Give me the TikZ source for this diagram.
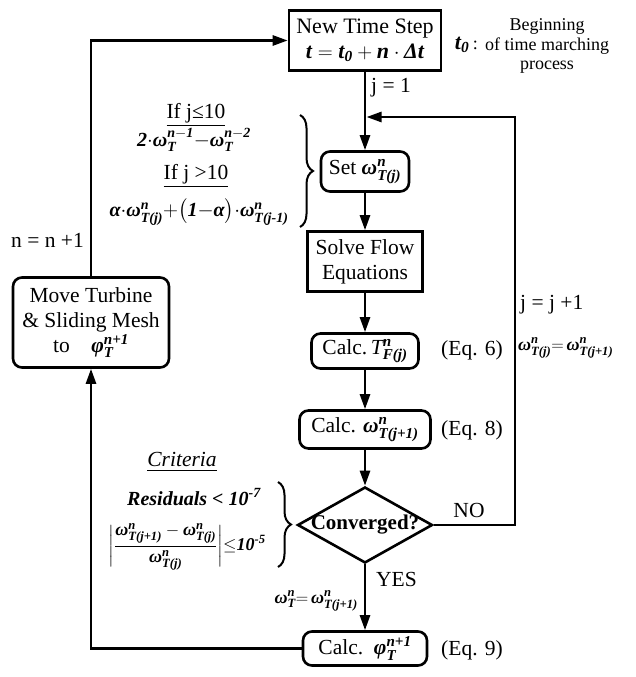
\documentclass[tikz,border=0pt]{standalone}
\usepackage{fontspec}
\setmainfont{Liberation Serif}
\usepackage{amsmath}
\usetikzlibrary{arrows.meta,shapes.geometric,decorations.pathreplacing}
\newcommand{\bt}[1]{\text{\bfseries\itshape #1}}
\newcommand{\omg}[1]{\bt{ω}^{\bt{n}}_{\bt{#1}}}
\begin{document}
\begin{tikzpicture}[x=1pt,y=-1pt,
  every node/.style={font=\fontsize{21.5}{25}\selectfont},
  flow/.style={line width=2.6pt},
  arr/.style={flow,-{Triangle[length=15pt,width=10pt]}},
  sqbox/.style={draw,line width=2.6pt,inner sep=0pt,align=center},
  rbox/.style={sqbox,rounded corners=9pt},
  lbl/.style={inner sep=0pt},
  fml/.style={lbl,font=\fontsize{20}{24}\selectfont},
  brc/.style={decorate,decoration={brace,amplitude=13pt},line width=2pt}]
\useasboundingbox (0,0) rectangle (635,677);

% main boxes
\node[sqbox,minimum width=152pt,minimum height=60pt,font=\fontsize{22}{25}\selectfont] (top) at (365,40.5)
  {New Time Step\\ $\bt{t}=\bt{t}_{\bt{0}}+\bt{n}\cdot\bt{Δt}$};
\node[rbox,minimum width=88pt,minimum height=40pt] (set) at (365,171.5) {Set $\omg{T(j)}$};
\node[sqbox,minimum width=115pt,minimum height=60pt] (solve) at (365,261.5) {Solve Flow\\Equations};
\node[rbox,minimum width=107pt,minimum height=35pt] (calcT) at (365,351)
  {Calc.\,$\text{\itshape T}^{\bt{n}}_{\bt{F(j)}}$};
\node[rbox,minimum width=131pt,minimum height=38pt] (calcW) at (365,429.5) {Calc. $\omg{T(j+1)}$};
\node[draw,diamond,line width=2.6pt,minimum width=135pt,minimum height=76pt,inner sep=0pt] (conv) at (365,525) {};
\node[lbl,font=\fontsize{21}{25}\selectfont\bfseries] (convt) at (conv.center) {Converged?};
\node[rbox,minimum width=124pt,minimum height=34pt] (calcP) at (365,648.5)
  {Calc.\ \ $\bt{φ}^{\bt{n+1}}_{\bt{T}}$};
\node[rbox,minimum width=156pt,minimum height=90pt] (move) at (91,322.5)
  {Move Turbine\\\& Sliding Mesh\\to\quad $\bt{φ}^{\bt{n+1}}_{\bt{T}}$};

% connectors
\coordinate (jn) at (366.5,117);
\coordinate (rt) at (515,525);
\draw[arr] (top) -- (set);
\draw[arr] (set) -- (solve);
\draw[arr] (solve) -- (calcT);
\draw[arr] (calcT) -- (calcW);
\draw[arr] (calcW) -- (conv);
\draw[arr] (conv) -- (calcP);
\draw[arr] (conv.east) -- (rt) |- (jn);
\draw[arr] (calcP.west) -| (move.south);
\draw[arr] (move.north) |- (top.west);

% labels
\node[lbl,anchor=west] (j1) at (371,88) {j = 1};
\node[lbl,anchor=east] (nn) at (84,240) {n = n +1};
\node[lbl,anchor=west] (jj) at (520,305) {j = j +1};
\node[lbl,anchor=west,font=\fontsize{18}{22}\selectfont] (wjj) at (518,348) {$\omg{T(j)}{=}\,\omg{T(j+1)}$};
\node[lbl,anchor=west] (eq6) at (441,350) {(Eq. 6)};
\node[lbl,anchor=west] (eq8) at (441,430) {(Eq. 8)};
\node[lbl,anchor=west] (eq9) at (441,650) {(Eq. 9)};
\node[lbl] (no) at (469,510) {NO};
\node[lbl,anchor=west] (yes) at (376,579) {YES};
\node[lbl,anchor=east,font=\fontsize{18}{22}\selectfont] (wt) at (358,601) {$\bt{ω}^{\bt{n}}_{\bt{T}}{=}\,\omg{T(j+1)}$};

% annotation t0
\node[lbl,align=center,font=\fontsize{18}{19.5}\selectfont] (beg) at (547,46) {Beginning\\of time marching\\process};
\node[lbl,anchor=east] (t0) at (478,45) {{\fontsize{22}{24}\selectfont$\bt{t}_{\bt{0}}$}\,{\fontsize{18}{20}\selectfont:}};

% left formulas
\node[lbl] (c1) at (196,115) {\underline{If j≤10}};
\node[fml] (f1) at (194,140) {$\bt{2}{\cdot}\bt{ω}^{\bt{n}-\bt{1}}_{\bt{T}}{-}\bt{ω}^{\bt{n}-\bt{2}}_{\bt{T}}$};
\node[lbl] (c2) at (196,176) {\underline{If j >10}};
\node[fml] (f2) at (199,212) {$\bt{α}{\cdot}\omg{T(j)}{+}\bigl(\bt{1}{-}\bt{α}\bigr){\cdot}\omg{T(j-1)}$};
\draw[brc] (300,115) -- (300,227);

% criteria
\node[lbl] (crit) at (182,462) {\textit{\underline{Criteria}}};
\node[fml] (res) at (194,497) {\bt{Residuals < 10}\textsuperscript{\bt{-7}}};
\node[lbl,font=\fontsize{18}{22}\selectfont] (frac) at (187,547)
  {$\biggl|\dfrac{\omg{T(j+1)}-\omg{T(j)}}{\omg{T(j)}}\biggr|{\le}\bt{10}^{\bt{-5}}$};
\draw[brc] (278,482) -- (278,567);
\end{tikzpicture}
\end{document}
